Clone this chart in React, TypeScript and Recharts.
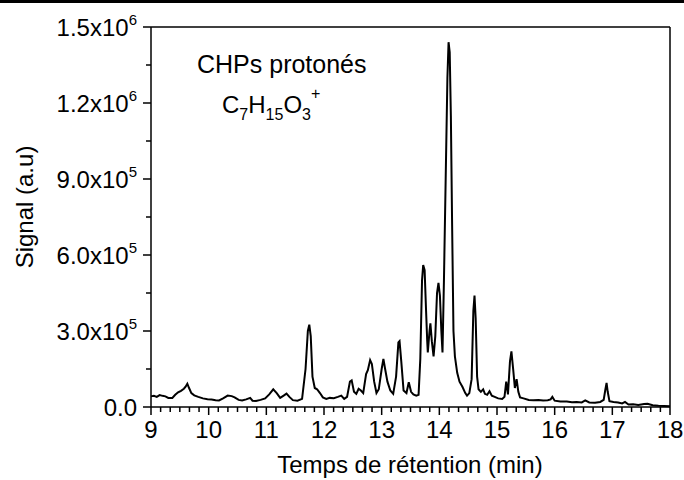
import { LineChart, Line, XAxis, YAxis, ReferenceLine } from 'recharts';

// retention time (min)
const times = [
  9.0, 9.05, 9.1, 9.15, 9.2, 9.25, 9.3, 9.37, 9.42, 9.47, 9.52, 9.57, 9.6, 9.63, 9.66, 9.7, 9.75, 9.82, 9.9, 9.98,
  10.05, 10.12, 10.18, 10.25, 10.33, 10.4, 10.45, 10.52, 10.58, 10.65, 10.72, 10.76, 10.82, 10.9, 10.98,
  11.05, 11.12, 11.18, 11.24, 11.3, 11.35, 11.4, 11.46, 11.54, 11.62, 11.68, 11.72, 11.745, 11.77, 11.8, 11.84, 11.88, 11.93, 11.98,
  12.04, 12.1, 12.17, 12.24, 12.3, 12.35, 12.4, 12.45, 12.48, 12.52, 12.56, 12.6, 12.64, 12.68, 12.73, 12.76, 12.8, 12.83, 12.87, 12.91, 12.95,
  13.0, 13.03, 13.06, 13.1, 13.15, 13.2, 13.25, 13.29, 13.31, 13.34, 13.38, 13.43, 13.47, 13.51, 13.55, 13.6, 13.64, 13.67, 13.7, 13.72, 13.745,
  13.77, 13.79, 13.8, 13.83, 13.845, 13.87, 13.9, 13.93, 13.96, 13.985,
  14.01, 14.035, 14.055, 14.08, 14.11, 14.14, 14.16, 14.18, 14.2, 14.22, 14.245, 14.27, 14.31, 14.35, 14.4, 14.45, 14.48, 14.52, 14.56, 14.59,
  14.61, 14.63, 14.655, 14.68, 14.72, 14.76, 14.79, 14.83, 14.87, 14.91, 14.96,
  15.02, 15.09, 15.13, 15.16, 15.19, 15.225, 15.25, 15.28, 15.31, 15.34, 15.37, 15.4, 15.46, 15.55, 15.63, 15.72, 15.8, 15.88, 15.93, 15.96,
  16.0, 16.1, 16.21, 16.3, 16.38, 16.47, 16.53, 16.6, 16.7, 16.79, 16.85, 16.88, 16.9, 16.92, 16.95,
  17.02, 17.1, 17.17, 17.22, 17.28, 17.36, 17.45, 17.55, 17.61, 17.7, 17.8, 17.9, 18.0,
];

// signal (a.u)
const signal = [
  42000, 44000, 40000, 47000, 44000, 42000, 36000, 36000, 48000, 58000, 64000, 72000, 80000, 92000, 75000, 55000, 46000, 40000, 34000, 31000,
  30000, 27000, 26000, 34000, 45000, 43000, 38000, 28000, 26000, 30000, 36000, 25000, 24000, 28000, 34000,
  50000, 70000, 55000, 36000, 45000, 53000, 40000, 27000, 25000, 32000, 150000, 300000, 325000, 280000, 120000, 75000, 70000, 55000, 38000,
  32000, 36000, 35000, 40000, 45000, 32000, 40000, 100000, 105000, 60000, 52000, 72000, 65000, 55000, 130000, 145000, 185000, 170000, 100000, 55000, 70000,
  150000, 190000, 150000, 100000, 65000, 52000, 120000, 255000, 260000, 180000, 65000, 55000, 98000, 60000, 50000, 45000, 48000, 190000, 500000, 560000, 540000,
  380000, 260000, 215000, 300000, 330000, 260000, 200000, 280000, 450000, 490000,
  440000, 300000, 215000, 500000, 900000, 1300000, 1440000, 1400000, 1150000, 750000, 300000, 200000, 135000, 100000, 80000, 55000, 45000, 55000, 110000, 380000,
  440000, 350000, 120000, 70000, 60000, 70000, 52000, 48000, 62000, 45000, 40000,
  34000, 32000, 40000, 100000, 50000, 180000, 220000, 150000, 75000, 110000, 60000, 38000, 34000, 28000, 27000, 28000, 26000, 27000, 30000, 40000,
  25000, 22000, 22000, 19000, 20000, 18000, 26000, 18000, 17000, 20000, 28000, 70000, 95000, 60000, 23000,
  20000, 18000, 14000, 20000, 10000, 11000, 8000, 12000, 13000, 7000, 5000, 4000, 3000,
];

const xMajorTicks = [9, 10, 11, 12, 13, 14, 15, 16, 17, 18];
const yMajorTicks = [0, 300000, 600000, 900000, 1200000, 1500000];
const yTickLabels = ['0.0', '3.0x10', '6.0x10', '9.0x10', '1.2x10', '1.5x10'];
const yTickExponents = ['', '5', '5', '5', '6', '6'];

const data = times.map((t, i) => ({ t, s: signal[i] }));

// 5 minor ticks between x majors, 1 between y majors
const xTicks: number[] = [];
for (let i = 0; i < xMajorTicks.length - 1; i++) {
  for (let k = 0; k < 6; k++) xTicks.push(xMajorTicks[i] + k / 6);
}
xTicks.push(18);
const yTicks: number[] = [];
for (let i = 0; i < yMajorTicks.length - 1; i++) {
  yTicks.push(yMajorTicks[i], (yMajorTicks[i] + yMajorTicks[i + 1]) / 2);
}
yTicks.push(1500000);

const FONT = '"Liberation Sans", Arial, sans-serif';

function XTick(props: any) {
  const { x, y, payload } = props;
  const v = payload.value;
  const major = Math.abs(v - Math.round(v)) < 1e-6;
  return (
    <g>
      <line x1={x} x2={x} y1={y} y2={y + (major ? 8 : 5)} stroke="#000" strokeWidth={1.5} />
      {major && (
        <text x={x} y={y + 31} textAnchor="middle" fontSize={24} fontFamily={FONT} fill="#000">
          {Math.round(v)}
        </text>
      )}
    </g>
  );
}

function YTick(props: any) {
  const { x, y, payload } = props;
  const idx = yMajorTicks.indexOf(payload.value);
  const major = idx >= 0;
  return (
    <g>
      <line x1={x - (major ? 8 : 5)} x2={x} y1={y} y2={y} stroke="#000" strokeWidth={1.5} />
      {major && (
        <text x={x - 14} y={y + 8.5} textAnchor="end" fontSize={24} fontFamily={FONT} fill="#000">
          {yTickLabels[idx]}
          {yTickExponents[idx] && (
            <tspan dy={-11} fontSize={15}>
              {yTickExponents[idx]}
            </tspan>
          )}
        </text>
      )}
    </g>
  );
}

export default function App() {
  return (
    <div style={{ position: 'absolute', left: 0, top: 0, width: 684, height: 480, background: '#fff' }}>
      <div style={{ position: 'absolute', left: 0, top: 0, width: 684, height: 3, background: '#000' }} />
      <LineChart width={684} height={480} data={data} margin={{ top: 27, right: 14, left: 0, bottom: 0 }}>
        <XAxis
          dataKey="t"
          type="number"
          domain={[9, 18]}
          ticks={xTicks}
          interval={0}
          tick={<XTick />}
          tickLine={false}
          tickSize={0}
          tickMargin={0}
          height={73}
          axisLine={{ stroke: '#000', strokeWidth: 1.5 }}
        />
        <YAxis
          dataKey="s"
          type="number"
          domain={[0, 1500000]}
          ticks={yTicks}
          interval={0}
          tick={<YTick />}
          tickLine={false}
          tickSize={0}
          tickMargin={0}
          width={151}
          axisLine={{ stroke: '#000', strokeWidth: 1.5 }}
        />
        <ReferenceLine y={1500000} stroke="#000" strokeWidth={1.5} />
        <ReferenceLine x={18} stroke="#000" strokeWidth={1.5} />
        <Line
          type="linear"
          dataKey="s"
          stroke="#000"
          strokeWidth={2}
          dot={false}
          isAnimationActive={false}
        />
      </LineChart>
      <svg
        width={684}
        height={480}
        style={{ position: 'absolute', left: 0, top: 0, pointerEvents: 'none' }}
        fontFamily={FONT}
        fill="#000"
      >
        <text transform="translate(33,207) rotate(-90)" textAnchor="middle" fontSize={24}>
          Signal (a.u)
        </text>
        <text x={410} y={473} textAnchor="middle" fontSize={24}>
          Temps de rétention (min)
        </text>
        <text x={197} y={73} fontSize={25}>
          CHPs protonés
        </text>
        <text x={222} y={113} fontSize={24}>
          C<tspan dy={7} fontSize={16}>7</tspan>
          <tspan dy={-7}>H</tspan>
          <tspan dy={7} fontSize={16}>15</tspan>
          <tspan dy={-7}>O</tspan>
          <tspan dy={7} fontSize={16}>3</tspan>
          <tspan dy={-21} fontSize={16}>+</tspan>
        </text>
      </svg>
    </div>
  );
}
